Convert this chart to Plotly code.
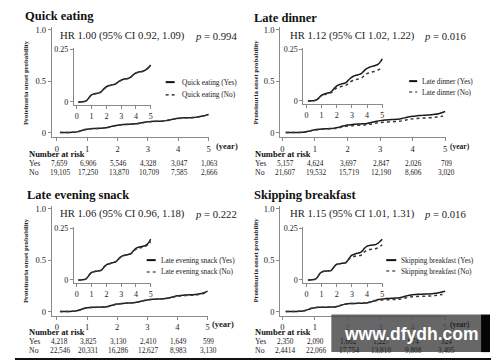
import plotly.graph_objects as go

W, H = 500, 362

# ---------------- data ----------------
years = [0.1, 0.2, 0.3, 0.4, 0.5, 0.6, 0.7, 0.8, 0.9, 1.0,
         1.1, 1.2, 1.3, 1.4, 1.5, 1.6, 1.7, 1.8, 1.9, 2.0,
         2.1, 2.2, 2.3, 2.4, 2.5, 2.6, 2.7, 2.8, 2.9, 3.0,
         3.1, 3.2, 3.3, 3.4, 3.5, 3.6, 3.7, 3.8, 3.9, 4.0,
         4.1, 4.2, 4.3, 4.4, 4.5, 4.6, 4.7, 4.8, 4.9, 5.0]

quick_yes = [0.000, 0.000, 0.000, 0.001, 0.002, 0.004, 0.009, 0.018, 0.027, 0.033,
             0.037, 0.039, 0.040, 0.041, 0.043, 0.046, 0.052, 0.060, 0.067, 0.072,
             0.076, 0.078, 0.080, 0.081, 0.083, 0.085, 0.090, 0.095, 0.100, 0.104,
             0.107, 0.109, 0.110, 0.111, 0.113, 0.116, 0.121, 0.128, 0.134, 0.138,
             0.141, 0.143, 0.144, 0.145, 0.147, 0.150, 0.155, 0.161, 0.167, 0.176]
quick_no = [0.000, 0.000, 0.000, 0.001, 0.002, 0.004, 0.009, 0.018, 0.027, 0.033,
            0.036, 0.038, 0.040, 0.041, 0.043, 0.046, 0.052, 0.059, 0.066, 0.071,
            0.075, 0.077, 0.079, 0.080, 0.082, 0.084, 0.089, 0.094, 0.099, 0.103,
            0.106, 0.108, 0.109, 0.110, 0.112, 0.115, 0.120, 0.127, 0.133, 0.137,
            0.140, 0.142, 0.143, 0.144, 0.146, 0.149, 0.154, 0.160, 0.166, 0.173]

dinner_yes = [0.000, 0.000, 0.000, 0.001, 0.001, 0.003, 0.006, 0.013, 0.021, 0.027,
              0.031, 0.034, 0.036, 0.038, 0.040, 0.043, 0.049, 0.058, 0.066, 0.073,
              0.077, 0.080, 0.082, 0.084, 0.086, 0.089, 0.095, 0.103, 0.110, 0.116,
              0.120, 0.123, 0.125, 0.127, 0.129, 0.132, 0.138, 0.146, 0.153, 0.158,
              0.162, 0.165, 0.167, 0.169, 0.171, 0.174, 0.177, 0.183, 0.192, 0.204]
dinner_no = [0.000, 0.000, 0.000, 0.001, 0.001, 0.003, 0.006, 0.012, 0.020, 0.025,
             0.028, 0.031, 0.033, 0.035, 0.037, 0.039, 0.044, 0.051, 0.058, 0.063,
             0.066, 0.068, 0.070, 0.072, 0.073, 0.076, 0.080, 0.087, 0.093, 0.097,
             0.100, 0.102, 0.104, 0.106, 0.108, 0.110, 0.115, 0.122, 0.129, 0.133,
             0.136, 0.138, 0.140, 0.142, 0.143, 0.146, 0.149, 0.153, 0.158, 0.165]

snack_yes = [0.000, 0.000, 0.000, 0.001, 0.002, 0.004, 0.010, 0.020, 0.030, 0.036,
             0.039, 0.041, 0.042, 0.043, 0.044, 0.045, 0.050, 0.059, 0.067, 0.073,
             0.077, 0.079, 0.081, 0.083, 0.085, 0.087, 0.092, 0.100, 0.107, 0.113,
             0.117, 0.119, 0.121, 0.122, 0.124, 0.126, 0.131, 0.139, 0.147, 0.153,
             0.157, 0.159, 0.161, 0.163, 0.164, 0.166, 0.170, 0.176, 0.185, 0.198]
snack_no = [0.000, 0.000, 0.000, 0.001, 0.002, 0.004, 0.010, 0.020, 0.030, 0.036,
            0.039, 0.041, 0.042, 0.043, 0.044, 0.045, 0.050, 0.059, 0.067, 0.073,
            0.077, 0.079, 0.081, 0.083, 0.085, 0.087, 0.092, 0.100, 0.107, 0.113,
            0.117, 0.119, 0.120, 0.121, 0.123, 0.125, 0.129, 0.136, 0.143, 0.148,
            0.152, 0.154, 0.156, 0.158, 0.159, 0.161, 0.165, 0.171, 0.177, 0.186]

breakfast_yes = [0.000, 0.000, 0.000, 0.001, 0.002, 0.004, 0.010, 0.021, 0.032, 0.038,
                 0.041, 0.042, 0.043, 0.043, 0.044, 0.045, 0.051, 0.061, 0.070, 0.076,
                 0.078, 0.079, 0.080, 0.081, 0.082, 0.084, 0.092, 0.103, 0.113, 0.120,
                 0.123, 0.126, 0.128, 0.130, 0.132, 0.135, 0.142, 0.151, 0.159, 0.164,
                 0.166, 0.168, 0.169, 0.170, 0.171, 0.173, 0.177, 0.183, 0.190, 0.198]
breakfast_no = [0.000, 0.000, 0.000, 0.001, 0.002, 0.004, 0.010, 0.021, 0.032, 0.038,
                0.041, 0.042, 0.043, 0.043, 0.044, 0.045, 0.051, 0.061, 0.070, 0.076,
                0.078, 0.079, 0.080, 0.081, 0.082, 0.084, 0.091, 0.100, 0.107, 0.111,
                0.113, 0.115, 0.116, 0.117, 0.118, 0.120, 0.126, 0.134, 0.140, 0.144,
                0.146, 0.148, 0.149, 0.150, 0.151, 0.153, 0.156, 0.160, 0.165, 0.171]

titles = ["Quick eating", "Late dinner", "Late evening snack", "Skipping breakfast"]
hr_texts = ["HR 1.00 (95% CI 0.92, 1.09)", "HR 1.12 (95% CI 1.02, 1.22)",
            "HR 1.06 (95% CI 0.96, 1.18)", "HR 1.15 (95% CI 1.01, 1.31)"]
p_texts = ["0.994", "0.016", "0.222", "0.016"]

risk_yes = [["7,659", "6,906", "5,546", "4,328", "3,047", "1,063"],
            ["5,157", "4,624", "3,697", "2,847", "2,026", "709"],
            ["4,218", "3,825", "3,130", "2,410", "1,649", "599"],
            ["2,350", "2,090", "1,662", "1,227", "874", "324"]]
risk_no = [["19,105", "17,250", "13,870", "10,709", "7,585", "2,666"],
           ["21,607", "19,532", "15,719", "12,190", "8,606", "3,020"],
           ["22,546", "20,331", "16,286", "12,627", "8,983", "3,130"],
           ["2,4414", "22,066", "17,754", "13,810", "9,808", "3,405"]]

series = [(quick_yes, quick_no), (dinner_yes, dinner_no),
          (snack_yes, snack_no), (breakfast_yes, breakfast_no)]

main_xticks = [0, 1, 2, 3, 4, 5]
main_yticks = [0, 0.5, 1.0]
main_ytext = ["0", "0.5", "1.0"]
inset_yticks = [0, 0.25]
inset_ytext = ["0", "0.25"]

# ---------------- layout helpers ----------------
def xdom(p0, p5, r0, r1):
    ppu = (p5 - p0) / 5.0
    return [(p0 + r0 * ppu) / W, (p0 + r1 * ppu) / W]

def ydom(p0, pv, v, r0, r1):
    ppu = (p0 - pv) / v
    bottom = p0 - r0 * ppu
    top = p0 - r1 * ppu
    return [1 - bottom / H, 1 - top / H]

def px(x):
    return x / W

def py(y):
    return 1 - y / H

panels = [
    dict(mx=(57, 209, -0.17), my=131, ix=(77, 151), iy=(100, 47), ox=0, oy=0,
         title=(23, 13), hr=58, p=193, ylab=25, leg=(166, 175, 180, 80, 93), yes=27,
         year_shift=5, year_size=8.5),
    dict(mx=(283, 446, -0.07), my=131, ix=(307, 383), iy=(99, 47), ox=250, oy=0,
         title=(253, 15), hr=289, p=423, ylab=256, leg=(410, 418, 421, 79, 90), yes=254,
         year_shift=3, year_size=7.5),
    dict(mx=(57, 208, -0.17), my=312, ix=(77, 151), iy=(280, 228), ox=0, oy=180,
         title=(25, 194), hr=58, p=193, ylab=25, leg=(147, 156, 159, 260, 272), yes=27,
         year_shift=2, year_size=8.5),
    dict(mx=(283, 446, -0.07), my=312, ix=(307, 383), iy=(280, 228), ox=250, oy=180,
         title=(253, 194), hr=289, p=423, ylab=256, leg=(387, 397, 400, 260, 271), yes=254,
         year_shift=3, year_size=7.5),
]

SERIF = "Liberation Serif"
TXT = "#222222"
AX = "#8a8a8a"

fig = go.Figure()
layout = dict(width=W, height=H, margin=dict(l=0, r=0, t=0, b=0),
              paper_bgcolor="white", plot_bgcolor="white", showlegend=False)
annotations = []
shapes = []

for i, pnl in enumerate(panels):
    mi = 2 * i + 1
    ii = 2 * i + 2
    mxname = "xaxis" if mi == 1 else f"xaxis{mi}"
    myname = "yaxis" if mi == 1 else f"yaxis{mi}"
    ixname = f"xaxis{ii}"
    iyname = f"yaxis{ii}"
    mref = "x" if mi == 1 else f"x{mi}"
    myref = "y" if mi == 1 else f"y{mi}"
    iref = f"x{ii}"
    iyref = f"y{ii}"

    x0, x5, r0 = pnl["mx"]
    y0 = pnl["my"]
    y1 = y0 - 104
    base_ax = dict(showgrid=False, zeroline=False, showline=True, linecolor=AX,
                   linewidth=1, ticks="outside", ticklen=3, tickcolor=AX, tickwidth=1)

    layout[mxname] = dict(base_ax, domain=xdom(x0, x5, r0, 5.03), range=[r0, 5.03],
                          anchor=myref, tickvals=main_xticks,
                          tickfont=dict(family=SERIF, size=8.5, color=TXT))
    xaxis_line_val = -0.048 if i < 2 else -0.042
    layout[myname] = dict(base_ax, domain=ydom(y0, y1, 1.0, xaxis_line_val, 1.03),
                          range=[xaxis_line_val, 1.03], anchor=mref,
                          tickvals=main_yticks, ticktext=main_ytext,
                          tickfont=dict(family=SERIF, size=8.5, color=TXT))
    ix0, ix5 = pnl["ix"]
    iy0, iy1 = pnl["iy"]
    layout[ixname] = dict(base_ax, domain=xdom(ix0, ix5, -0.2, 5.05), range=[-0.2, 5.05],
                          anchor=iyref, tickvals=main_xticks,
                          tickfont=dict(family=SERIF, size=8, color=TXT))
    layout[iyname] = dict(base_ax, domain=ydom(iy0, iy1, 0.25, -0.016, 0.255),
                          range=[-0.016, 0.255], anchor=iref,
                          tickvals=inset_yticks, ticktext=inset_ytext,
                          tickfont=dict(family=SERIF, size=8, color=TXT))

    yes_vals, no_vals = series[i]
    for xa, ya in ((mref, myref), (iref, iyref)):
        fig.add_trace(go.Scatter(x=years, y=yes_vals, mode="lines", xaxis=xa, yaxis=ya,
                                 line=dict(color="#1a1a1a", width=1.5, shape="spline",
                                           smoothing=0.6), hoverinfo="skip"))
        fig.add_trace(go.Scatter(x=years, y=no_vals, mode="lines", xaxis=xa, yaxis=ya,
                                 line=dict(color="#3a3a3a", width=1.5, dash="dot",
                                           shape="spline", smoothing=0.6),
                                 hoverinfo="skip"))

    oy = pnl["oy"]
    tx, ty = pnl["title"]
    annotations.append(dict(text=f"<b>{titles[i]}</b>", x=px(tx), y=py(ty), xref="paper",
                            yref="paper", xanchor="left", yanchor="middle", showarrow=False,
                            font=dict(family=SERIF, size=12.5, color="#111")))
    annotations.append(dict(text=hr_texts[i], x=px(pnl["hr"]), y=py(oy + 33), xref="paper",
                            yref="paper", xanchor="left", yanchor="middle", showarrow=False,
                            font=dict(family=SERIF, size=10.7, color=TXT)))
    annotations.append(dict(text=f"<i>p</i> = {p_texts[i]}", x=px(pnl["p"]), y=py(oy + 33),
                            xref="paper", yref="paper", xanchor="left", yanchor="middle",
                            showarrow=False, font=dict(family=SERIF, size=10.7, color=TXT)))
    annotations.append(dict(text="<b>Proteinuria onset probability</b>", x=px(pnl["ylab"]),
                            y=py(oy + 80), xref="paper", yref="paper", textangle=-90,
                            xanchor="center", yanchor="middle", showarrow=False,
                            font=dict(family=SERIF, size=6.8, color=TXT)))
    annotations.append(dict(text="<b>(year)</b>", x=5, xref=mref, y=py(oy + 145),
                            yref="paper", xanchor="left", yanchor="middle",
                            xshift=pnl["year_shift"], showarrow=False,
                            font=dict(family=SERIF, size=pnl["year_size"], color=TXT)))
    lx0, lx1, ltx, ly1, ly2 = pnl["leg"]
    name = titles[i]
    for (ly, dash, lab) in ((ly1, "solid", "Yes"), (ly2, "dot", "No")):
        shapes.append(dict(type="line", xref="paper", yref="paper", x0=px(lx0), x1=px(lx1),
                           y0=py(ly), y1=py(ly),
                           line=dict(color="#111", width=2 if dash == "solid" else 1.2,
                                     dash=dash)))
        annotations.append(dict(text=f"{name} ({lab})", x=px(ltx), y=py(ly), xref="paper",
                                yref="paper", xanchor="left", yanchor="middle",
                                showarrow=False, font=dict(family=SERIF, size=7.3, color=TXT)))
    annotations.append(dict(text="<b>Number at risk</b>", x=px(pnl["yes"]), y=py(oy + 153),
                            xref="paper", yref="paper", xanchor="left", yanchor="middle",
                            showarrow=False, font=dict(family=SERIF, size=8.5, color="#111")))
    for lab, row, yy in (("Yes", risk_yes[i], oy + 162), ("No", risk_no[i], oy + 171)):
        annotations.append(dict(text=lab, x=px(pnl["yes"]), y=py(yy), xref="paper",
                                yref="paper", xanchor="left", yanchor="middle",
                                showarrow=False, font=dict(family=SERIF, size=7.8, color=TXT)))
        for k, val in enumerate(row):
            annotations.append(dict(text=val, x=main_xticks[k], xref=mref, y=py(yy),
                                    yref="paper", xanchor="center", yanchor="middle",
                                    xshift=3 if k == 0 else 1, showarrow=False,
                                    font=dict(family=SERIF, size=7.3, color=TXT)))

shapes.append(dict(type="line", xref="paper", yref="paper", x0=px(15), x1=px(492),
                   y0=py(360), y1=py(360), line=dict(color="#111", width=2)))
shapes.append(dict(type="rect", xref="paper", yref="paper", x0=px(332), x1=px(482),
                   y0=py(353), y1=py(315), line=dict(width=0),
                   fillcolor="rgba(78,78,78,0.86)", layer="above"))
shapes.append(dict(type="rect", xref="paper", yref="paper", x0=px(482), x1=px(491),
                   y0=py(353), y1=py(315), line=dict(width=0), fillcolor="#050505",
                   layer="above"))
annotations.append(dict(text="<b>www.dfydh.com</b>", x=px(412), y=py(335), xref="paper",
                        yref="paper", xanchor="center", yanchor="middle", showarrow=False,
                        font=dict(family="Liberation Sans", size=17.5, color="white")))

layout["annotations"] = annotations
layout["shapes"] = shapes
fig.update_layout(**layout)
fig.write_html("out.html", config={"displayModeBar": False},
               post_script="document.body.style.margin='0';document.body.style.padding='0';")
